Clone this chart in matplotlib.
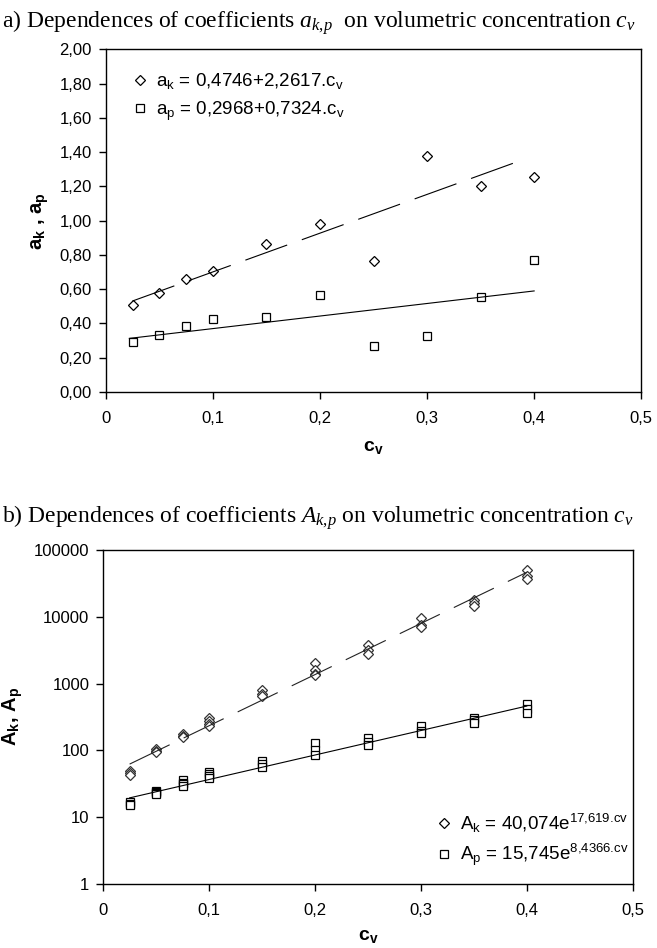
import numpy as np
import matplotlib
matplotlib.use('Agg')
import matplotlib.pyplot as plt
from matplotlib.ticker import FixedLocator, FuncFormatter, NullLocator

plt.rcParams['font.family'] = ['Liberation Sans', 'DejaVu Sans']
plt.rcParams['mathtext.default'] = 'regular'
plt.rcParams['mathtext.fontset'] = 'custom'
plt.rcParams['mathtext.it'] = 'Liberation Serif:italic'
plt.rcParams['mathtext.rm'] = 'Liberation Serif'

# ---- data, panel a) ----
cv = [0.025, 0.05, 0.075, 0.1, 0.15, 0.2, 0.25, 0.3, 0.35, 0.4]
a_k = [0.51, 0.58, 0.657, 0.707, 0.862, 0.98, 0.766, 1.38, 1.20, 1.254]
a_p = [0.292, 0.335, 0.385, 0.428, 0.438, 0.565, 0.266, 0.327, 0.557, 0.77]
# linear fits a = b0 + b1*cv as printed on the chart
fit_ak = (0.4746, 2.2617)
fit_ap = (0.2968, 0.7324)
range_ak = (0.025, 0.39)
range_ap = (0.022, 0.40)

# ---- data, panel b) (several measurements per concentration) ----
cv_b = [0.025, 0.05, 0.075, 0.1, 0.15, 0.2, 0.25, 0.3, 0.35, 0.4]
A_k = [[49, 46, 43], [105, 98, 93], [175, 165, 158], [300, 275, 250, 235],
       [790, 700, 640], [2030, 1600, 1400, 1350], [3800, 3200, 2750],
       [9400, 7500, 6900], [17500, 16000, 14500], [50000, 41000, 36500]]
A_p = [[17, 16, 15], [25, 24, 23, 22], [36, 33, 31, 29], [48, 45, 42, 38],
       [70, 63, 56], [130, 100, 85], [155, 135, 120], [230, 195, 180],
       [305, 280, 255], [490, 420, 360]]
# exponential fits A = c0*exp(c1*cv)
fit_Ak = (40.074, 17.619)
fit_Ap = (15.745, 8.4366)
range_b = (0.025, 0.40)

comma = FuncFormatter(lambda v, p: ('%g' % v).replace('.', ','))
comma2 = FuncFormatter(lambda v, p: ('%.2f' % v).replace('.', ','))


def style_axes(ax):
    for s in ax.spines.values():
        s.set_linewidth(1.0)
        s.set_color('black')
    ax.tick_params(axis='both', direction='out', length=5, width=1.0,
                   labelsize=12, top=False, right=False)
    ax.tick_params(axis='x', pad=9)
    ax.tick_params(axis='y', pad=5)


fig = plt.figure(figsize=(6.57, 9.48), dpi=100)

# ---------------- panel a ----------------
ax1 = fig.add_axes([0.161, 0.5865, 0.815, 0.3615])
ax1.plot(cv, a_k, linestyle='none', marker='D', ms=4.8, mfc='white',
         mec='black', mew=0.9, label=r'$a_k$ = 0,4746+2,2617.c$_v$')
ax1.plot(cv, a_p, linestyle='none', marker='s', ms=5.4, mfc='white',
         mec='black', mew=0.9, label=r'$a_p$ = 0,2968+0,7324.c$_v$')
xs = np.array(range_ak)
ax1.plot(xs, fit_ak[0] + fit_ak[1] * xs, color='black', lw=0.8,
         dashes=(40, 14))
xs = np.array(range_ap)
ax1.plot(xs, fit_ap[0] + fit_ap[1] * xs, color='black', lw=0.8)
ax1.set_xlim(0, 0.5)
ax1.set_ylim(0, 2.0)
ax1.xaxis.set_major_locator(FixedLocator([0, 0.1, 0.2, 0.3, 0.4, 0.5]))
ax1.yaxis.set_major_locator(FixedLocator(np.arange(0, 2.01, 0.2)))
ax1.xaxis.set_major_formatter(comma)
ax1.yaxis.set_major_formatter(comma2)
style_axes(ax1)
ax1.set_xlabel(r'c$_v$', fontsize=14, fontweight='bold', labelpad=9)
ax1.set_ylabel(r'a$_k$ , a$_p$', fontsize=14.5, fontweight='bold', labelpad=6)
ax1.legend(loc='upper left', bbox_to_anchor=(0.02, 0.985), frameon=False,
           fontsize=13.5, numpoints=1, handlelength=0.7, handletextpad=0.5,
           labelspacing=0.45)

fig.text(0.003, 1 - 28 / 948, r'a) Dependences of coefficients $\mathit{a_{k{,}p}}$  on volumetric concentration $\mathit{c_v}$',
         family='Liberation Serif', fontsize=17, va='baseline', ha='left')

# ---------------- panel b ----------------
ax2 = fig.add_axes([0.157, 0.0675, 0.806, 0.3525])
for x, ys in zip(cv_b, A_k):
    ax2.plot([x] * len(ys), ys, linestyle='none', marker='D', ms=4.8,
             mfc='white', mec='#333333', mew=0.9)
for x, ys in zip(cv_b, A_p):
    ax2.plot([x] * len(ys), ys, linestyle='none', marker='s', ms=5.4,
             mfc='white', mec='black', mew=0.9)
xs = np.linspace(range_b[0], range_b[1], 60)
ax2.plot(xs, fit_Ak[0] * np.exp(fit_Ak[1] * xs), color='#222222', lw=0.8,
         dashes=(40, 14))
ax2.plot(xs, fit_Ap[0] * np.exp(fit_Ap[1] * xs), color='black', lw=0.8)
ax2.set_yscale('log')
ax2.set_xlim(0, 0.5)
ax2.set_ylim(1, 100000)
ax2.xaxis.set_major_locator(FixedLocator([0, 0.1, 0.2, 0.3, 0.4, 0.5]))
ax2.yaxis.set_major_locator(FixedLocator([1, 10, 100, 1000, 10000, 100000]))
ax2.yaxis.set_minor_locator(NullLocator())
ax2.xaxis.set_major_formatter(comma)
ax2.yaxis.set_major_formatter(FuncFormatter(lambda v, p: '%d' % v))
style_axes(ax2)
ax2.set_xlabel(r'c$_v$', fontsize=14, fontweight='bold', labelpad=7)
ax2.set_ylabel(r'A$_k$, A$_p$', fontsize=14.5, fontweight='bold', labelpad=6)

hk, = ax2.plot([], [], linestyle='none', marker='D', ms=4.8, mfc='white',
               mec='black', mew=0.9)
hp, = ax2.plot([], [], linestyle='none', marker='s', ms=5.4, mfc='white',
               mec='black', mew=0.9)
ax2.legend([hk, hp], [r'$A_k$ = 40,074e$^{17{,}619.\!cv}$',
                      r'$A_p$ = 15,745e$^{8{,}4366.\!cv}$'],
           loc='lower right', bbox_to_anchor=(1.025, -0.004), frameon=False,
           fontsize=13.5, numpoints=1, handlelength=0.7, handletextpad=0.5,
           labelspacing=0.4)

fig.text(0.003, 1 - 523 / 948, r'b) Dependences of coefficients $\mathit{A_{k{,}p}}$ on volumetric concentration $\mathit{c_v}$',
         family='Liberation Serif', fontsize=17, va='baseline', ha='left')

fig.savefig('out.png', dpi=100)
